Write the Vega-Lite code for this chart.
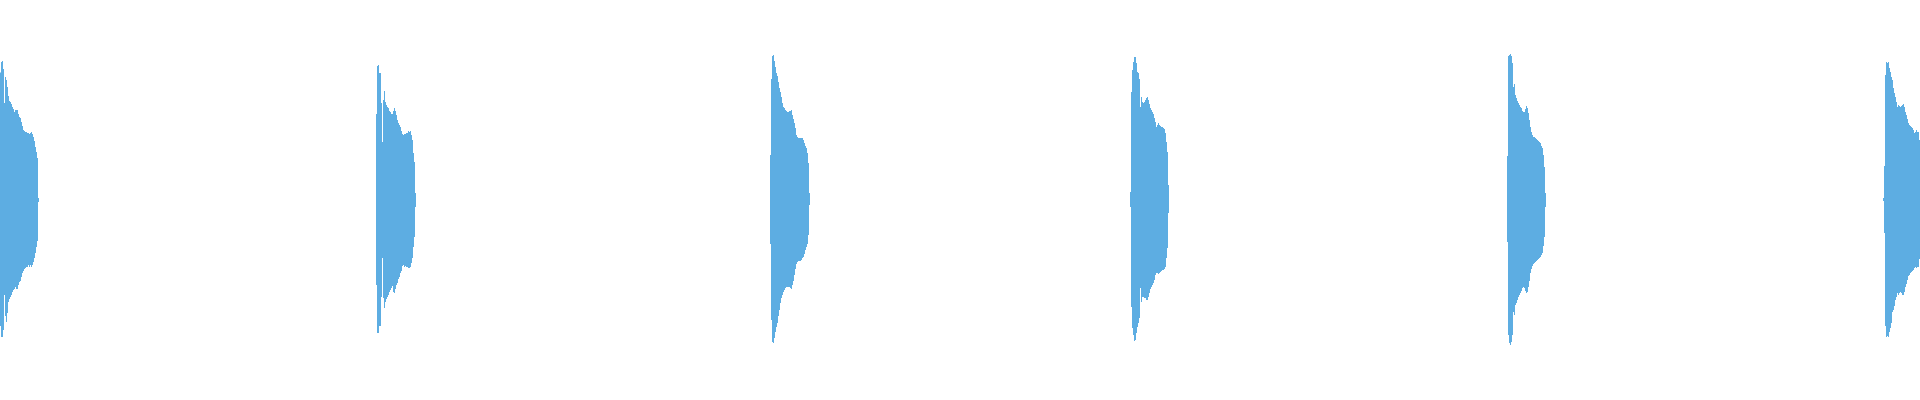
{
"$schema":"https://vega.github.io/schema/vega-lite/v6.json",
"autosize":{"type":"fit","contains":"padding"},
"width":1920,"height":400,"padding":0,
"background":"#ffffff",
"config":{"view":{"stroke":null}},
"data":{"values":[
{"t":0,"hi":0.637,"lo":-0.63,"hit":1},{"t":1,"hi":0.69,"lo":-0.685,"hit":1},{"t":2,"hi":0.695,"lo":-0.685,"hit":1},{"t":3,"hi":0.655,"lo":-0.65,"hit":1},{"t":4,"hi":0.485,"lo":-0.475,"hit":1},{"t":5,"hi":0.615,"lo":-0.58,"hit":1},{"t":6,"hi":0.6,"lo":-0.61,"hit":1},{"t":7,"hi":0.565,"lo":-0.565,"hit":1},{"t":8,"hi":0.52,"lo":-0.51,"hit":1},{"t":9,"hi":0.495,"lo":-0.495,"hit":1},{"t":10,"hi":0.49,"lo":-0.485,"hit":1},{"t":11,"hi":0.48,"lo":-0.475,"hit":1},{"t":12,"hi":0.465,"lo":-0.46,"hit":1},{"t":13,"hi":0.455,"lo":-0.45,"hit":1},{"t":14,"hi":0.44,"lo":-0.445,"hit":1},{"t":15,"hi":0.45,"lo":-0.435,"hit":1},{"t":16,"hi":0.45,"lo":-0.445,"hit":1},{"t":17,"hi":0.45,"lo":-0.445,"hit":1},{"t":18,"hi":0.43,"lo":-0.425,"hit":1},{"t":19,"hi":0.415,"lo":-0.41,"hit":1},{"t":20,"hi":0.41,"lo":-0.405,"hit":1},{"t":21,"hi":0.39,"lo":-0.385,"hit":1},{"t":22,"hi":0.37,"lo":-0.365,"hit":1},{"t":23,"hi":0.35,"lo":-0.355,"hit":1},{"t":24,"hi":0.345,"lo":-0.345,"hit":1},{"t":25,"hi":0.34,"lo":-0.34,"hit":1},{"t":26,"hi":0.34,"lo":-0.335,"hit":1},{"t":27,"hi":0.335,"lo":-0.335,"hit":1},{"t":28,"hi":0.335,"lo":-0.325,"hit":1},{"t":29,"hi":0.33,"lo":-0.335,"hit":1},{"t":30,"hi":0.335,"lo":-0.325,"hit":1},{"t":31,"hi":0.34,"lo":-0.335,"hit":1},{"t":32,"hi":0.33,"lo":-0.325,"hit":1},{"t":33,"hi":0.315,"lo":-0.31,"hit":1},{"t":34,"hi":0.295,"lo":-0.29,"hit":1},{"t":35,"hi":0.265,"lo":-0.265,"hit":1},{"t":36,"hi":0.24,"lo":-0.235,"hit":1},{"t":37,"hi":0.21,"lo":-0.205,"hit":1},{"t":38,"hi":0.01,"lo":-0.01,"hit":1},{"t":39,"hi":0.01,"lo":-0.01,"hit":1},
{"t":376,"hi":0.43,"lo":-0.425,"hit":2},{"t":377,"hi":0.67,"lo":-0.665,"hit":2},{"t":378,"hi":0.675,"lo":-0.665,"hit":2},{"t":379,"hi":0.635,"lo":-0.63,"hit":2},{"t":380,"hi":0.635,"lo":-0.63,"hit":2},{"t":381,"hi":0.485,"lo":-0.485,"hit":2},{"t":382,"hi":0.29,"lo":-0.29,"hit":2},{"t":383,"hi":0.5,"lo":-0.49,"hit":2},{"t":384,"hi":0.545,"lo":-0.54,"hit":2},{"t":385,"hi":0.49,"lo":-0.51,"hit":2},{"t":386,"hi":0.475,"lo":-0.495,"hit":2},{"t":387,"hi":0.465,"lo":-0.485,"hit":2},{"t":388,"hi":0.46,"lo":-0.475,"hit":2},{"t":389,"hi":0.445,"lo":-0.46,"hit":2},{"t":390,"hi":0.44,"lo":-0.45,"hit":2},{"t":391,"hi":0.43,"lo":-0.44,"hit":2},{"t":392,"hi":0.43,"lo":-0.43,"hit":2},{"t":393,"hi":0.445,"lo":-0.46,"hit":2},{"t":394,"hi":0.46,"lo":-0.465,"hit":2},{"t":395,"hi":0.445,"lo":-0.445,"hit":2},{"t":396,"hi":0.425,"lo":-0.425,"hit":2},{"t":397,"hi":0.4,"lo":-0.415,"hit":2},{"t":398,"hi":0.385,"lo":-0.395,"hit":2},{"t":399,"hi":0.375,"lo":-0.385,"hit":2},{"t":400,"hi":0.365,"lo":-0.365,"hit":2},{"t":401,"hi":0.345,"lo":-0.355,"hit":2},{"t":402,"hi":0.33,"lo":-0.33,"hit":2},{"t":403,"hi":0.325,"lo":-0.325,"hit":2},{"t":404,"hi":0.33,"lo":-0.335,"hit":2},{"t":405,"hi":0.33,"lo":-0.33,"hit":2},{"t":406,"hi":0.335,"lo":-0.335,"hit":2},{"t":407,"hi":0.335,"lo":-0.335,"hit":2},{"t":408,"hi":0.345,"lo":-0.34,"hit":2},{"t":409,"hi":0.34,"lo":-0.34,"hit":2},{"t":410,"hi":0.345,"lo":-0.335,"hit":2},{"t":411,"hi":0.325,"lo":-0.315,"hit":2},{"t":412,"hi":0.3,"lo":-0.29,"hit":2},{"t":413,"hi":0.235,"lo":-0.235,"hit":2},{"t":414,"hi":0.19,"lo":-0.185,"hit":2},{"t":415,"hi":0.035,"lo":-0.035,"hit":2},{"t":416,"hi":0.035,"lo":-0.035,"hit":2},
{"t":770,"hi":0.225,"lo":-0.22,"hit":3},{"t":771,"hi":0.605,"lo":-0.6,"hit":3},{"t":772,"hi":0.72,"lo":-0.71,"hit":3},{"t":773,"hi":0.725,"lo":-0.715,"hit":3},{"t":774,"hi":0.695,"lo":-0.69,"hit":3},{"t":775,"hi":0.665,"lo":-0.66,"hit":3},{"t":776,"hi":0.635,"lo":-0.635,"hit":3},{"t":777,"hi":0.62,"lo":-0.615,"hit":3},{"t":778,"hi":0.59,"lo":-0.58,"hit":3},{"t":779,"hi":0.56,"lo":-0.55,"hit":3},{"t":780,"hi":0.54,"lo":-0.515,"hit":3},{"t":781,"hi":0.515,"lo":-0.49,"hit":3},{"t":782,"hi":0.485,"lo":-0.475,"hit":3},{"t":783,"hi":0.465,"lo":-0.46,"hit":3},{"t":784,"hi":0.46,"lo":-0.45,"hit":3},{"t":785,"hi":0.45,"lo":-0.44,"hit":3},{"t":786,"hi":0.445,"lo":-0.435,"hit":3},{"t":787,"hi":0.44,"lo":-0.435,"hit":3},{"t":788,"hi":0.44,"lo":-0.435,"hit":3},{"t":789,"hi":0.445,"lo":-0.435,"hit":3},{"t":790,"hi":0.445,"lo":-0.44,"hit":3},{"t":791,"hi":0.45,"lo":-0.445,"hit":3},{"t":792,"hi":0.425,"lo":-0.425,"hit":3},{"t":793,"hi":0.405,"lo":-0.405,"hit":3},{"t":794,"hi":0.385,"lo":-0.375,"hit":3},{"t":795,"hi":0.36,"lo":-0.345,"hit":3},{"t":796,"hi":0.325,"lo":-0.32,"hit":3},{"t":797,"hi":0.315,"lo":-0.31,"hit":3},{"t":798,"hi":0.31,"lo":-0.305,"hit":3},{"t":799,"hi":0.31,"lo":-0.305,"hit":3},{"t":800,"hi":0.31,"lo":-0.305,"hit":3},{"t":801,"hi":0.31,"lo":-0.3,"hit":3},{"t":802,"hi":0.31,"lo":-0.29,"hit":3},{"t":803,"hi":0.3,"lo":-0.285,"hit":3},{"t":804,"hi":0.285,"lo":-0.27,"hit":3},{"t":805,"hi":0.27,"lo":-0.25,"hit":3},{"t":806,"hi":0.26,"lo":-0.235,"hit":3},{"t":807,"hi":0.235,"lo":-0.22,"hit":3},{"t":808,"hi":0.185,"lo":-0.175,"hit":3},{"t":809,"hi":0.035,"lo":-0.025,"hit":3},{"t":810,"hi":0.035,"lo":-0.025,"hit":3},
{"t":1130,"hi":0.04,"lo":-0.035,"hit":4},{"t":1131,"hi":0.54,"lo":-0.535,"hit":4},{"t":1132,"hi":0.65,"lo":-0.64,"hit":4},{"t":1133,"hi":0.69,"lo":-0.675,"hit":4},{"t":1134,"hi":0.715,"lo":-0.705,"hit":4},{"t":1135,"hi":0.715,"lo":-0.7,"hit":4},{"t":1136,"hi":0.685,"lo":-0.665,"hit":4},{"t":1137,"hi":0.64,"lo":-0.635,"hit":4},{"t":1138,"hi":0.635,"lo":-0.615,"hit":4},{"t":1139,"hi":0.605,"lo":-0.59,"hit":4},{"t":1140,"hi":0.465,"lo":-0.44,"hit":4},{"t":1141,"hi":0.515,"lo":-0.51,"hit":4},{"t":1142,"hi":0.49,"lo":-0.485,"hit":4},{"t":1143,"hi":0.485,"lo":-0.485,"hit":4},{"t":1144,"hi":0.49,"lo":-0.49,"hit":4},{"t":1145,"hi":0.5,"lo":-0.49,"hit":4},{"t":1146,"hi":0.51,"lo":-0.5,"hit":4},{"t":1147,"hi":0.515,"lo":-0.5,"hit":4},{"t":1148,"hi":0.5,"lo":-0.485,"hit":4},{"t":1149,"hi":0.48,"lo":-0.465,"hit":4},{"t":1150,"hi":0.46,"lo":-0.445,"hit":4},{"t":1151,"hi":0.45,"lo":-0.435,"hit":4},{"t":1152,"hi":0.44,"lo":-0.425,"hit":4},{"t":1153,"hi":0.43,"lo":-0.415,"hit":4},{"t":1154,"hi":0.41,"lo":-0.4,"hit":4},{"t":1155,"hi":0.39,"lo":-0.375,"hit":4},{"t":1156,"hi":0.365,"lo":-0.365,"hit":4},{"t":1157,"hi":0.375,"lo":-0.365,"hit":4},{"t":1158,"hi":0.385,"lo":-0.37,"hit":4},{"t":1159,"hi":0.375,"lo":-0.365,"hit":4},{"t":1160,"hi":0.37,"lo":-0.36,"hit":4},{"t":1161,"hi":0.365,"lo":-0.355,"hit":4},{"t":1162,"hi":0.365,"lo":-0.35,"hit":4},{"t":1163,"hi":0.36,"lo":-0.35,"hit":4},{"t":1164,"hi":0.355,"lo":-0.345,"hit":4},{"t":1165,"hi":0.335,"lo":-0.335,"hit":4},{"t":1166,"hi":0.29,"lo":-0.29,"hit":4},{"t":1167,"hi":0.24,"lo":-0.24,"hit":4},{"t":1168,"hi":0.075,"lo":-0.065,"hit":4},{"t":1169,"hi":0.075,"lo":-0.065,"hit":4},
{"t":1507,"hi":0.22,"lo":-0.21,"hit":5},{"t":1508,"hi":0.72,"lo":-0.675,"hit":5},{"t":1509,"hi":0.725,"lo":-0.715,"hit":5},{"t":1510,"hi":0.73,"lo":-0.725,"hit":5},{"t":1511,"hi":0.72,"lo":-0.71,"hit":5},{"t":1512,"hi":0.685,"lo":-0.675,"hit":5},{"t":1513,"hi":0.565,"lo":-0.56,"hit":5},{"t":1514,"hi":0.58,"lo":-0.575,"hit":5},{"t":1515,"hi":0.525,"lo":-0.525,"hit":5},{"t":1516,"hi":0.51,"lo":-0.515,"hit":5},{"t":1517,"hi":0.495,"lo":-0.5,"hit":5},{"t":1518,"hi":0.485,"lo":-0.485,"hit":5},{"t":1519,"hi":0.475,"lo":-0.475,"hit":5},{"t":1520,"hi":0.465,"lo":-0.465,"hit":5},{"t":1521,"hi":0.46,"lo":-0.455,"hit":5},{"t":1522,"hi":0.445,"lo":-0.44,"hit":5},{"t":1523,"hi":0.44,"lo":-0.435,"hit":5},{"t":1524,"hi":0.44,"lo":-0.44,"hit":5},{"t":1525,"hi":0.455,"lo":-0.455,"hit":5},{"t":1526,"hi":0.47,"lo":-0.465,"hit":5},{"t":1527,"hi":0.46,"lo":-0.46,"hit":5},{"t":1528,"hi":0.435,"lo":-0.435,"hit":5},{"t":1529,"hi":0.4,"lo":-0.405,"hit":5},{"t":1530,"hi":0.365,"lo":-0.365,"hit":5},{"t":1531,"hi":0.34,"lo":-0.345,"hit":5},{"t":1532,"hi":0.325,"lo":-0.33,"hit":5},{"t":1533,"hi":0.315,"lo":-0.32,"hit":5},{"t":1534,"hi":0.315,"lo":-0.315,"hit":5},{"t":1535,"hi":0.31,"lo":-0.31,"hit":5},{"t":1536,"hi":0.305,"lo":-0.305,"hit":5},{"t":1537,"hi":0.3,"lo":-0.3,"hit":5},{"t":1538,"hi":0.295,"lo":-0.295,"hit":5},{"t":1539,"hi":0.29,"lo":-0.29,"hit":5},{"t":1540,"hi":0.285,"lo":-0.285,"hit":5},{"t":1541,"hi":0.27,"lo":-0.275,"hit":5},{"t":1542,"hi":0.26,"lo":-0.265,"hit":5},{"t":1543,"hi":0.225,"lo":-0.23,"hit":5},{"t":1544,"hi":0.165,"lo":-0.185,"hit":5},{"t":1545,"hi":0.035,"lo":-0.035,"hit":5},{"t":1546,"hi":0.035,"lo":-0.035,"hit":5},
{"t":1883,"hi":0.01,"lo":-0.005,"hit":6},{"t":1884,"hi":0.17,"lo":-0.165,"hit":6},{"t":1885,"hi":0.625,"lo":-0.63,"hit":6},{"t":1886,"hi":0.69,"lo":-0.685,"hit":6},{"t":1887,"hi":0.685,"lo":-0.68,"hit":6},{"t":1888,"hi":0.69,"lo":-0.685,"hit":6},{"t":1889,"hi":0.66,"lo":-0.66,"hit":6},{"t":1890,"hi":0.64,"lo":-0.64,"hit":6},{"t":1891,"hi":0.615,"lo":-0.615,"hit":6},{"t":1892,"hi":0.6,"lo":-0.56,"hit":6},{"t":1893,"hi":0.56,"lo":-0.55,"hit":6},{"t":1894,"hi":0.535,"lo":-0.53,"hit":6},{"t":1895,"hi":0.515,"lo":-0.5,"hit":6},{"t":1896,"hi":0.49,"lo":-0.485,"hit":6},{"t":1897,"hi":0.465,"lo":-0.465,"hit":6},{"t":1898,"hi":0.475,"lo":-0.475,"hit":6},{"t":1899,"hi":0.47,"lo":-0.465,"hit":6},{"t":1900,"hi":0.465,"lo":-0.46,"hit":6},{"t":1901,"hi":0.47,"lo":-0.465,"hit":6},{"t":1902,"hi":0.475,"lo":-0.475,"hit":6},{"t":1903,"hi":0.48,"lo":-0.475,"hit":6},{"t":1904,"hi":0.465,"lo":-0.46,"hit":6},{"t":1905,"hi":0.44,"lo":-0.435,"hit":6},{"t":1906,"hi":0.425,"lo":-0.42,"hit":6},{"t":1907,"hi":0.405,"lo":-0.4,"hit":6},{"t":1908,"hi":0.385,"lo":-0.38,"hit":6},{"t":1909,"hi":0.375,"lo":-0.375,"hit":6},{"t":1910,"hi":0.37,"lo":-0.365,"hit":6},{"t":1911,"hi":0.365,"lo":-0.36,"hit":6},{"t":1912,"hi":0.36,"lo":-0.355,"hit":6},{"t":1913,"hi":0.35,"lo":-0.35,"hit":6},{"t":1914,"hi":0.335,"lo":-0.34,"hit":6},{"t":1915,"hi":0.34,"lo":-0.335,"hit":6},{"t":1916,"hi":0.35,"lo":-0.34,"hit":6},{"t":1917,"hi":0.34,"lo":-0.335,"hit":6},{"t":1918,"hi":0.34,"lo":-0.335,"hit":6},{"t":1919,"hi":0.3,"lo":-0.295,"hit":6},{"t":1920,"hi":0.3,"lo":-0.295,"hit":6}
]},
"mark":{"type":"area","interpolate":"step-after","color":"#5DADE2","opacity":1,"clip":true},
"encoding":{
"x":{"field":"t","type":"quantitative","scale":{"domain":[0,1920],"nice":false,"zero":false},"axis":null},
"y":{"field":"hi","type":"quantitative","scale":{"domain":[-1,1],"nice":false},"axis":null},
"y2":{"field":"lo"},
"detail":{"field":"hit","type":"nominal"}
}
}
